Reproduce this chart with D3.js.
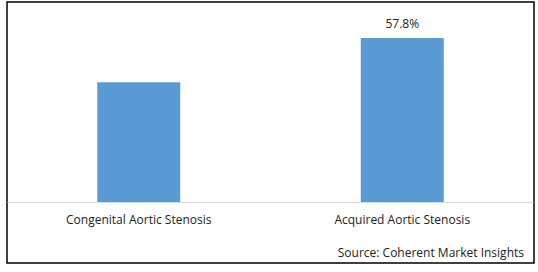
<!DOCTYPE html>
<html><head><meta charset="utf-8">
<script src="https://cdn.jsdelivr.net/npm/d3@7"></script>
<style>body{margin:0;background:#fff}svg{display:block}text{font-family:"Open Sans",sans-serif;fill:#222}</style>
</head><body><svg id="c" width="538" height="272"></svg>
<script>
const categories = ["Congenital Aortic Stenosis", "Acquired Aortic Stenosis"];
const values = [42.2, 57.8];
const valueLabels = ["", "57.8%"];
const source = "Source: Coherent Market Insights";

const svg = d3.select("#c");
svg.append("rect").attr("x",7).attr("y",2).attr("width",527).attr("height",261)
  .attr("fill","#fff").attr("stroke","#000").attr("stroke-width",1.5);
const x = d3.scaleBand().domain(categories).range([7,534]).paddingInner(0.685).paddingOuter(0.3425);
const y = d3.scaleLinear().domain([0,70]).range([202,3.4]);

svg.selectAll(".bar").data(values).join("rect").attr("class","bar")
  .attr("x",(d,i)=>x(categories[i])).attr("width",x.bandwidth())
  .attr("y",d=>y(d)).attr("height",d=>y(0)-y(d)).attr("fill","#5b9bd5");

const ax = svg.append("g").attr("transform",`translate(0,${y(0)})`)
  .call(d3.axisBottom(x).tickSize(0).tickPadding(13));
ax.select(".domain").attr("stroke","#d9d9d9").attr("d","M7.5,0.5H533.5");
ax.selectAll("text").attr("font-size",12).attr("font-family","Open Sans").attr("fill","#222");

svg.selectAll(".vl").data(values).join("text").attr("class","vl")
  .attr("x",(d,i)=>x(categories[i])+x.bandwidth()/2).attr("y",d=>y(d)-10)
  .attr("text-anchor","middle").attr("font-size",12).text((d,i)=>valueLabels[i]);

svg.append("text").attr("x",524).attr("y",257).attr("text-anchor","end")
  .attr("font-size",12).text(source);
</script></body></html>
